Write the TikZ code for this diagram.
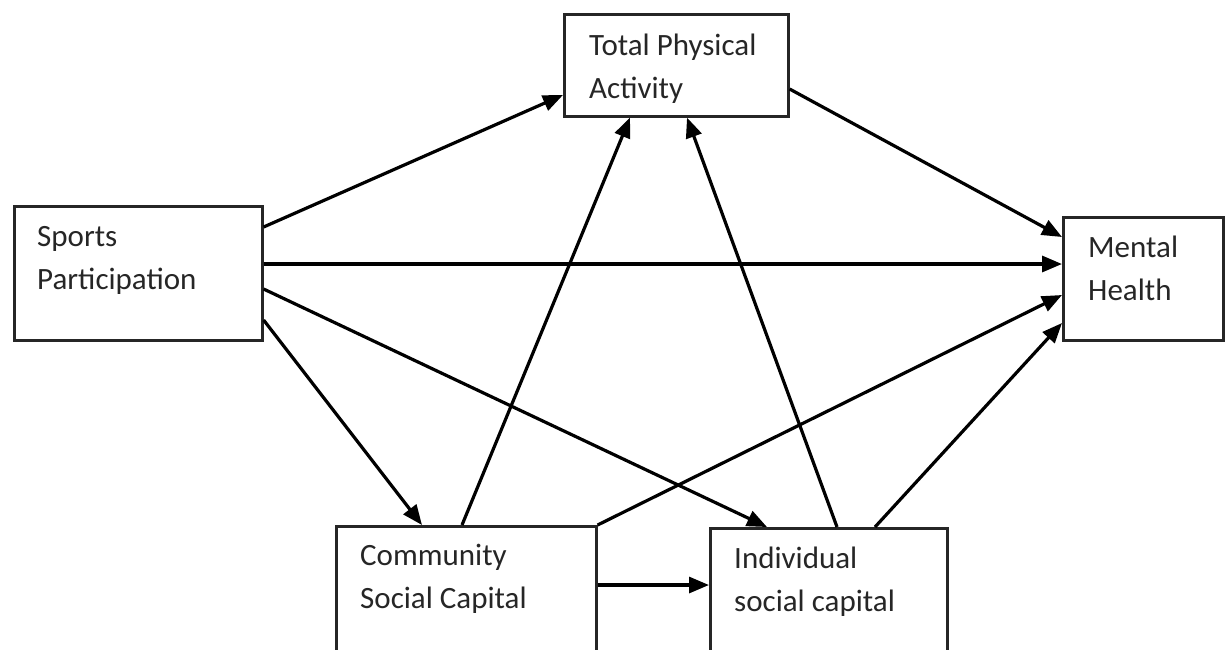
\documentclass[tikz,border=0pt]{standalone}
\usepackage{fontspec}
\setmainfont{Carlito}
\usetikzlibrary{arrows.meta,calc}
\begin{document}
\begin{tikzpicture}[x=1pt,y=-1pt,
  box/.style={draw=black!85,line width=2.6pt,rectangle,inner sep=0pt,anchor=north west},
  txt/.style={inner sep=0pt,anchor=north west,align=left,font=\fontsize{31}{43}\selectfont,text=black!85},
  arr/.style={line width=3.2pt,draw=black,-{Triangle[length=20pt,width=16pt]}}]
\useasboundingbox (0,0) rectangle (1225,649);
\clip (0,0) rectangle (1225,649);
\node[box,minimum width=224pt,minimum height=102pt] (tpa) at (563,13) {};
\node[box,minimum width=248pt,minimum height=134pt] (sp) at (13,205) {};
\node[box,minimum width=160pt,minimum height=123pt] (mh) at (1062,216) {};
\node[box,minimum width=260pt,minimum height=150pt] (com) at (335,525) {};
\node[box,minimum width=237pt,minimum height=150pt] (ind) at (709,527) {};
\node[txt] (tpat) at (589,34) {Total Physical\\Activity};
\node[txt] (spt) at (37,226) {Sports\\Participation};
\node[txt] (mht) at (1088,236) {Mental\\Health};
\node[txt] (comt) at (360,544) {Community\\Social Capital};
\node[txt] (indt) at (734,547) {Individual\\social capital};
\draw[arr] ($(sp.north east)+(0,22)$) -- ($(tpa.north west)+(0,82)$);
\draw[arr] ($(sp.north east)+(0,59)$) -- ($(mh.north west)+(0,48)$);
\draw[arr] ($(sp.north east)+(0,84)$) -- ($(ind.north west)+(58,0)$);
\draw[arr] ($(sp.north east)+(0,115)$) -- ($(com.north west)+(87,0)$);
\draw[arr] ($(com.north west)+(127,0)$) -- ($(tpa.south west)+(67,0)$);
\draw[arr] ($(ind.north west)+(128,0)$) -- ($(tpa.south west)+(124,0)$);
\draw[arr] ($(tpa.north east)+(0,76)$) -- ($(mh.north west)+(0,21)$);
\draw[arr] (com.north east) -- ($(mh.north west)+(0,79)$);
\draw[arr] ($(ind.north west)+(166,0)$) -- ($(mh.north west)+(0,107)$);
\draw[arr] ($(com.north east)+(0,60)$) -- ($(ind.north west)+(0,58)$);
\end{tikzpicture}
\end{document}
